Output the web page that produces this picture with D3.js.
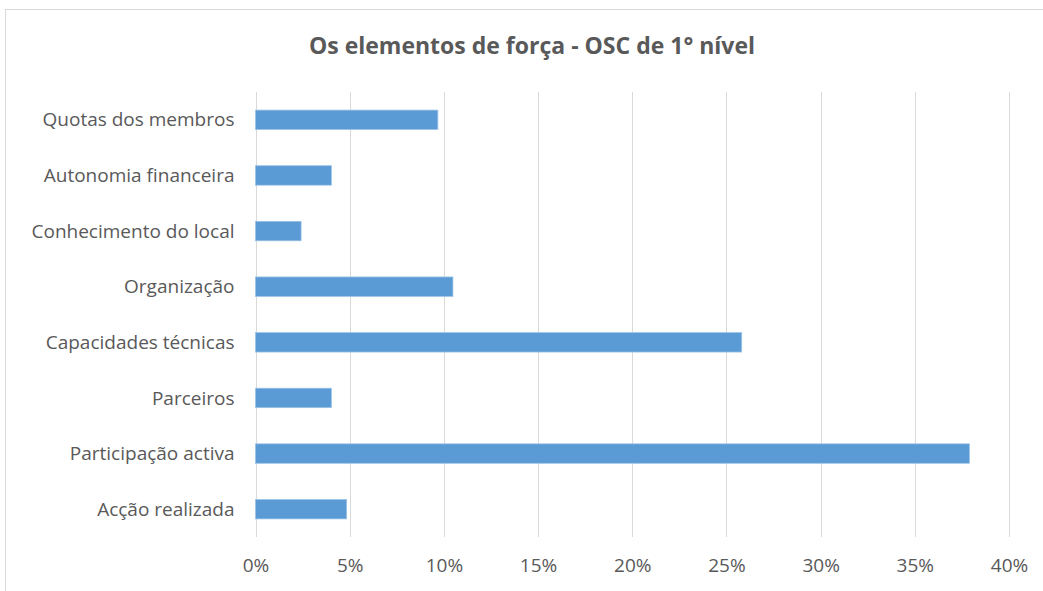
<html lang="pt">
<head>
    <meta charset="utf-8">
    <title>Os elementos de força</title>
    <script src="https://cdn.jsdelivr.net/npm/d3@7"></script>
    <style type="text/css">
        body {
            margin: 0;
            background: #fff;
            font-family: "Open Sans", sans-serif;
        }
        .grid line {
            stroke: #d9d9d9;
            stroke-width: 1.5px;
            shape-rendering: crispEdges;
        }
        .axis path { display: none; }
        .axis text {
            fill: #595959;
            font-size: 19px;
            font-family: "Open Sans", sans-serif;
        }
    </style>
</head>
<body>
<svg id="chart"></svg>
<script type="text/javascript">

    // data, top to bottom as drawn
    var categories = ["Quotas dos membros", "Autonomia financeira", "Conhecimento do local",
        "Organização", "Capacidades técnicas", "Parceiros", "Participação activa", "Acção realizada"];
    var values = [0.0968, 0.0403, 0.0242, 0.1048, 0.2581, 0.0403, 0.379, 0.0484];
    var ticks = [0, 0.05, 0.10, 0.15, 0.20, 0.25, 0.30, 0.35, 0.40];
    var title = "Os elementos de força - OSC de 1° nível";

    var width = 1043, height = 591;
    var plot = {left: 255.5, right: 1009, top: 92, bottom: 537};

    var svg = d3.select("#chart")
        .attr("width", width)
        .attr("height", height);

    // chart frame
    svg.append("rect")
        .attr("x", 5.5)
        .attr("y", 9.5)
        .attr("width", width + 20)
        .attr("height", height + 20)
        .attr("fill", "#fff")
        .attr("stroke", "#d9d9d9")
        .attr("stroke-width", 1);

    svg.append("text")
        .attr("x", 532)
        .attr("y", 54)
        .attr("text-anchor", "middle")
        .style("font-family", "'Open Sans', sans-serif")
        .style("font-size", "23px")
        .style("font-weight", "bold")
        .style("fill", "#595959")
        .text(title);

    var x = d3.scaleLinear()
        .domain([0, 0.40])
        .range([plot.left, plot.right]);

    var y = d3.scaleBand()
        .domain(categories)
        .range([plot.top, plot.bottom])
        .paddingInner(0.65)
        .paddingOuter(0.325);

    // gridlines
    svg.append("g")
        .attr("class", "grid")
        .selectAll("line")
        .data(ticks)
        .enter().append("line")
        .attr("x1", function (d) { return Math.round(x(d)) + 0.5; })
        .attr("x2", function (d) { return Math.round(x(d)) + 0.5; })
        .attr("y1", plot.top)
        .attr("y2", plot.bottom);

    svg.selectAll(".bar")
        .data(values)
        .enter().append("rect")
        .attr("class", "bar")
        .attr("x", x(0))
        .attr("y", function (d, i) { return y(categories[i]); })
        .attr("width", function (d) { return x(d) - x(0); })
        .attr("height", y.bandwidth())
        .attr("fill", "#5b9bd5")
        .attr("stroke", "#9cc3e6")
        .attr("stroke-width", 0.75);

    svg.append("g")
        .attr("class", "axis")
        .attr("transform", "translate(0," + (plot.bottom + 14) + ")")
        .call(d3.axisBottom(x).tickValues(ticks).tickSize(0).tickFormat(d3.format(".0%")))
        .selectAll("text")
        .attr("dy", "0.95em");

    svg.append("g")
        .attr("class", "axis")
        .attr("transform", "translate(" + (plot.left - 18) + ",0)")
        .call(d3.axisLeft(y).tickSize(0))
        .selectAll("text")
        .attr("dy", "0.35em");

</script>
</body>
</html>
